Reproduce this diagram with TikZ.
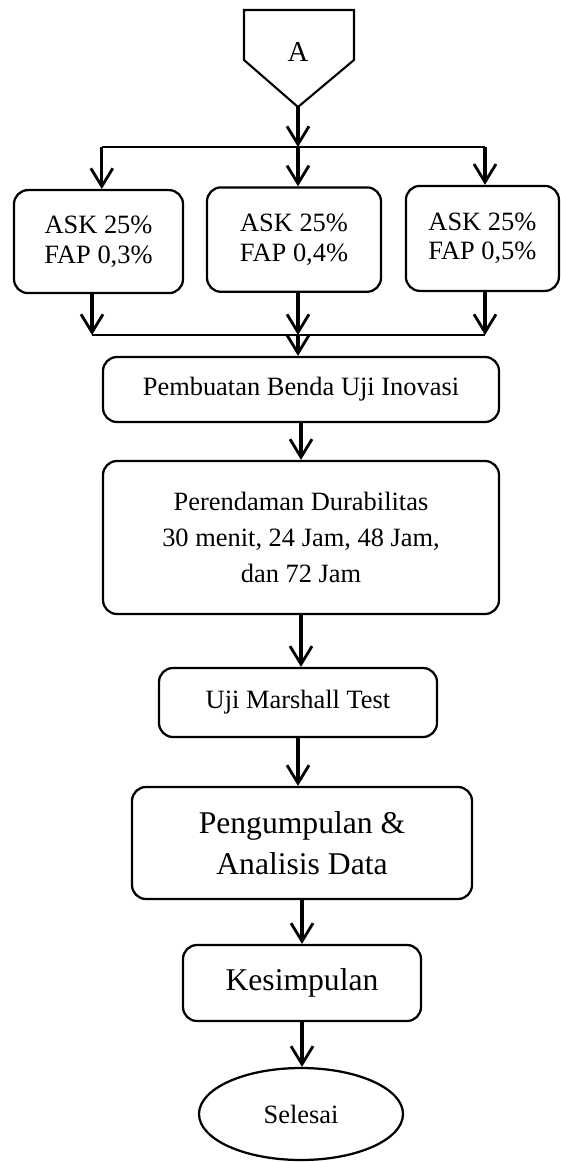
\documentclass[tikz,border=0pt]{standalone}
\usepackage{fontspec}
\setmainfont{Liberation Serif}
\usetikzlibrary{arrows.meta}
\usetikzlibrary{shapes.geometric, positioning}

\tikzset{
  kotak/.style={draw, line width=1.6pt, rounded corners=0.35cm, align=center, inner sep=0pt, font=\fontsize{18.8}{21}\selectfont},
  kotakbesar/.style={kotak, font=\fontsize{22.5}{29}\selectfont},
  panah/.style={-{Straight Barb[length=0.45cm, width=0.55cm, line width=2pt]}, line width=2.3pt},
  garis/.style={line width=1.5pt},
}

\begin{document}
\begin{tikzpicture}

    \useasboundingbox (0,0) rectangle (14,-29.05);

    % penghubung A
    \draw[garis] (6.1,-0.25) -- (8.85,-0.25) -- (8.85,-1.5) -- (7.45,-2.675) -- (6.1,-1.5) -- cycle;
    \node[font=\fontsize{20.5}{24}\selectfont] (hurufA) at (7.45,-1.3) {A};
    \coordinate (ujungA) at (7.45,-2.675);

    \coordinate (kiriatas) at (2.545,-3.675);
    \coordinate (cabangatas) at (7.45,-3.675);
    \coordinate (kananatas) at (12.125,-3.675);

    \node[kotak, minimum width=4.225cm, minimum height=2.575cm] (ask1) at (2.4625,-6.04) {ASK 25\%\\FAP 0,3\%};
    \node[kotak, minimum width=4.35cm, minimum height=2.61cm] (ask2) at (7.35,-5.99) {ASK 25\%\\FAP 0,4\%};
    \node[kotak, minimum width=3.825cm, minimum height=2.625cm] (ask3) at (12.06,-5.96) {ASK 25\%\\FAP 0,5\%};

    \coordinate (kiribawah) at (2.3,-8.375);
    \coordinate (cabangbawah) at (7.45,-8.375);
    \coordinate (kananbawah) at (12.125,-8.375);

    \node[kotak, minimum width=9.9cm, minimum height=1.625cm] (pembuatan) at (7.525,-9.7375) {Pembuatan Benda Uji Inovasi};
    \node[kotak, font=\fontsize{18.8}{25.3}\selectfont, minimum width=9.9cm, minimum height=3.825cm] (perendaman) at (7.525,-13.4375) {Perendaman Durabilitas\\30 menit, 24 Jam, 48 Jam,\\dan 72 Jam};
    \node[kotak, minimum width=6.95cm, minimum height=1.725cm] (marshall) at (7.45,-17.5625) {Uji Marshall Test};
    \node[kotakbesar, minimum width=8.5cm, minimum height=2.8cm] (analisis) at (7.55,-21.075) {Pengumpulan \&\\Analisis Data};
    \node[kotakbesar, minimum width=5.95cm, minimum height=1.9cm] (kesimpulan) at (7.55,-24.575) {Kesimpulan};
    \node[draw, ellipse, line width=1.6pt, inner sep=0pt, minimum width=5.1cm, minimum height=2.3cm, font=\fontsize{18.8}{21}\selectfont] (selesai) at (7.525,-27.85) {Selesai};

    % cabang atas
    \draw[garis] (kiriatas) -- (kananatas);
    \draw[panah] (ujungA) -- (cabangatas);
    \draw[panah] (kiriatas) -- (kiriatas |- ask1.north);
    \draw[panah] (cabangatas) -- (cabangatas |- ask2.north);
    \draw[panah] (kananatas) -- (kananatas |- ask3.north);

    % cabang bawah
    \draw[garis] (kiribawah) -- (kananbawah);
    \draw[panah] (ask1.south -| kiribawah) -- (kiribawah);
    \draw[panah] (ask2.south -| cabangbawah) -- (cabangbawah);
    \draw[panah] (ask3.south -| kananbawah) -- (kananbawah);
    \draw[panah] (cabangbawah) -- (cabangbawah |- pembuatan.north);

    \draw[panah] (pembuatan.south) -- (pembuatan.south |- perendaman.north);
    \draw[panah] (perendaman.south) -- (perendaman.south |- marshall.north);
    \draw[panah] (marshall.south) -- (marshall.south |- analisis.north);
    \draw[panah] (analisis.south) -- (analisis.south |- kesimpulan.north);
    \draw[panah] (kesimpulan.south) -- (kesimpulan.south |- selesai.north);

  \end{tikzpicture}
\end{document}
